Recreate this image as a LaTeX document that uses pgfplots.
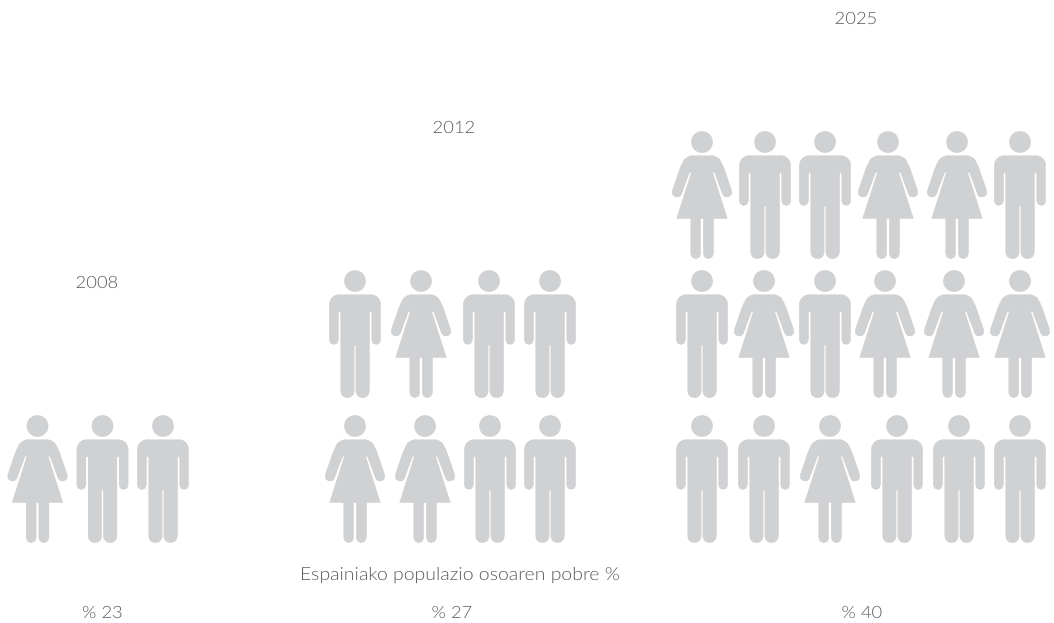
\documentclass[border=0pt]{standalone}
\usepackage{pgfplots}
\usepackage{pgfplotstable}
\usepackage{fontspec}
\pgfplotsset{compat=1.18}
\setmainfont[FakeStretch=1.08]{Lato Light}
\definecolor{figure}{HTML}{D0D1D3}
\definecolor{caption}{HTML}{58595B}

% Pictogram marks, origin at the centre of the head, one unit = 1pt, y pointing down.
\pgfdeclareplotmark{man}{%
  \begin{scope}[x=1pt,y=-1pt]
    \fill[figure] (0,0) circle[radius=10.7];
    \fill[figure] (0,13.5)
      [rounded corners=10pt] -- (25.7,13.5)
      [rounded corners=4.49pt] -- (25.7,63.5) -- (16.7,63.5)
      [rounded corners=1.19pt] -- (16.7,30) -- (14.3,30)
      [rounded corners=6.7pt] -- (14.3,116.7) -- (0.8,116.7)
      [rounded corners=0.79pt] -- (0.8,63.5) -- (-0.8,63.5)
      [rounded corners=6.7pt] -- (-0.8,116.7) -- (-14.3,116.7)
      [rounded corners=1.19pt] -- (-14.3,30) -- (-16.7,30)
      [rounded corners=4.49pt] -- (-16.7,63.5) -- (-25.7,63.5)
      [rounded corners=10pt] -- (-25.7,13.5)
      [sharp corners] -- cycle;
  \end{scope}}
\pgfdeclareplotmark{woman}{%
  \begin{scope}[x=1pt,y=-1pt]
    \fill[figure] (0,0) circle[radius=10.7];
    \fill[figure] (0,13.5)
      [rounded corners=6pt] -- (15,13.5) -- (20.5,22)
      [rounded corners=4.3pt] -- (31.1,53) -- (22.2,56.5)
      [sharp corners] -- (12.4,30) -- (10.6,30.5) -- (25.3,76.5)
      -- (-25.3,76.5) -- (-10.6,30.5) -- (-12.4,30)
      [rounded corners=4.3pt] -- (-22.2,56.5) -- (-31.1,53)
      [rounded corners=6pt] -- (-20.5,22) -- (-15,13.5)
      [sharp corners] -- cycle;
    \fill[figure] (1.3,75)
      [rounded corners=4.9pt] -- (1.3,116.7) -- (11.3,116.7)
      [sharp corners] -- (11.3,75) -- cycle;
    \fill[figure] (-1.3,75)
      [rounded corners=4.9pt] -- (-1.3,116.7) -- (-11.3,116.7)
      [sharp corners] -- (-11.3,75) -- cycle;
  \end{scope}}

% Head positions of each figure
\pgfplotstableread{
x    y
102.5 426
163  426
355  281
489  281
550  281
490  426
550  426
765  142
825  142
1020 142
702  281
825  281
702  426
764  426
897  426
959  426
1020 426
}\menpos
\pgfplotstableread{
x    y
37.5 426
421  281
355  426
425  426
702  142
888  142
957  142
764  281
885  281
954  281
1020 281
830  426
}\womenpos

\begin{document}
\begin{tikzpicture}
\begin{axis}[
  scale only axis, width=1054pt, height=622pt,
  xmin=0, xmax=1054, ymin=0, ymax=622, y dir=reverse,
  axis lines=none, clip=false,
  nodes={font=\fontsize{17}{20}\selectfont, text=caption, inner sep=0pt},
]
% keeps the full canvas in the page box
\path (axis cs:0,0) rectangle (axis cs:1054,622);
\addplot[only marks, mark=man] table {\menpos};
\addplot[only marks, mark=woman] table {\womenpos};
\node at (axis cs:97,282.5) {2008};
\node at (axis cs:454,127.5) {2012};
\node at (axis cs:856,18.5) {2025};
\node[font=\fontsize{18}{21}\selectfont] at (axis cs:460,576) {Espainiako populazio osoaren pobre \%};
\node at (axis cs:102.5,612.5) {\% 23};
\node at (axis cs:452,612.5) {\% 27};
\node at (axis cs:862,612.5) {\% 40};
\end{axis}
\end{tikzpicture}
\end{document}
